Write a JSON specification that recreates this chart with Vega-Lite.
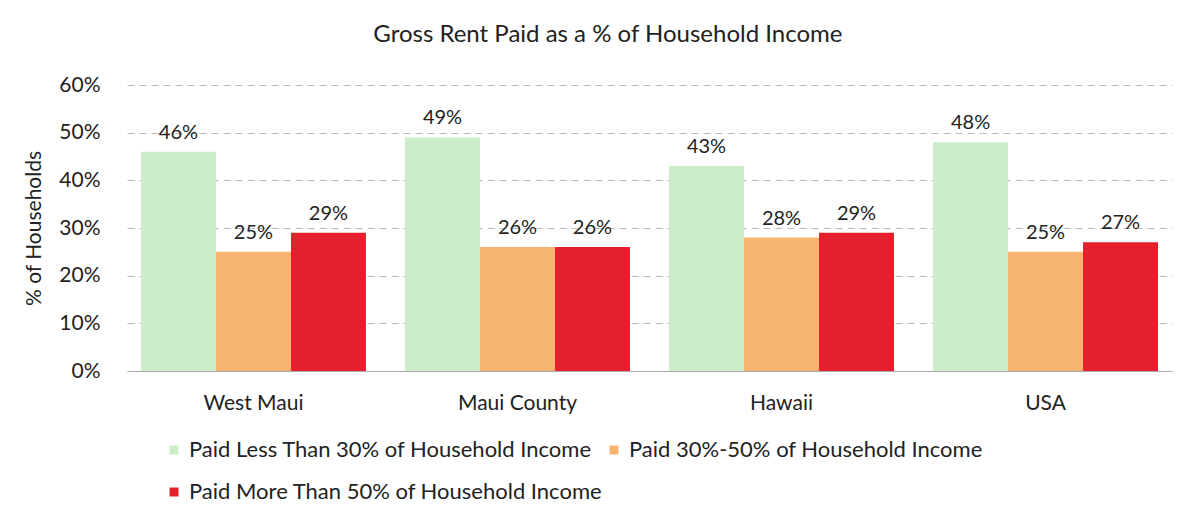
{
  "$schema": "https://vega.github.io/schema/vega-lite/v6.json",
  "autosize": "none",
  "width": 1045,
  "height": 286,
  "padding": {"left": 127, "top": 85, "right": 27, "bottom": 154},
  "background": "white",
  "title": {"text": "Gross Rent Paid as a % of Household Income", "font": "Lato", "fontSize": 24, "fontWeight": "normal", "color": "#222", "offset": 27, "anchor": "middle", "frame": "bounds", "dx": 10},
  "data": {"values": [
    {"region": "West Maui", "category": "Paid Less Than 30% of Household Income", "value": 0.46},
    {"region": "West Maui", "category": "Paid 30%-50% of Household Income", "value": 0.25},
    {"region": "West Maui", "category": "Paid More Than 50% of Household Income", "value": 0.29},
    {"region": "Maui County", "category": "Paid Less Than 30% of Household Income", "value": 0.49},
    {"region": "Maui County", "category": "Paid 30%-50% of Household Income", "value": 0.26},
    {"region": "Maui County", "category": "Paid More Than 50% of Household Income", "value": 0.26},
    {"region": "Hawaii", "category": "Paid Less Than 30% of Household Income", "value": 0.43},
    {"region": "Hawaii", "category": "Paid 30%-50% of Household Income", "value": 0.28},
    {"region": "Hawaii", "category": "Paid More Than 50% of Household Income", "value": 0.29},
    {"region": "USA", "category": "Paid Less Than 30% of Household Income", "value": 0.48},
    {"region": "USA", "category": "Paid 30%-50% of Household Income", "value": 0.25},
    {"region": "USA", "category": "Paid More Than 50% of Household Income", "value": 0.27}
  ]},
  "encoding": {
    "x": {"field": "region", "type": "nominal", "sort": ["West Maui", "Maui County", "Hawaii", "USA"],
      "scale": {"paddingInner": 0.148, "paddingOuter": 0.053},
      "axis": {"title": null, "labelAngle": 0, "labelFont": "Lato", "labelFontSize": 21, "labelColor": "#222", "labelPadding": 21, "ticks": false, "domainColor": "#aaa", "grid": false}},
    "xOffset": {"field": "category", "type": "nominal", "sort": ["Paid Less Than 30% of Household Income", "Paid 30%-50% of Household Income", "Paid More Than 50% of Household Income"]},
    "y": {"field": "value", "type": "quantitative", "scale": {"domain": [0, 0.6], "nice": false},
      "axis": {"title": "% of Households", "format": ".0%", "values": [0, 0.1, 0.2, 0.3, 0.4, 0.5, 0.6], "labelOverlap": false, "labelFont": "Lato", "labelFontSize": 21, "labelColor": "#222", "labelPadding": 27, "ticks": false, "tickSize": 0, "domain": false, "gridColor": "#aaa", "gridDash": [7, 5], "gridOpacity": 0.8, "titleFont": "Lato", "titleFontSize": 21, "titleFontWeight": "normal", "titleColor": "#222", "titlePadding": 14}}
  },
  "layer": [
    {"mark": {"type": "bar"},
      "encoding": {"color": {"field": "category", "type": "nominal",
        "sort": ["Paid Less Than 30% of Household Income", "Paid 30%-50% of Household Income", "Paid More Than 50% of Household Income"],
        "scale": {"domain": ["Paid Less Than 30% of Household Income", "Paid 30%-50% of Household Income", "Paid More Than 50% of Household Income"], "range": ["#cbedc8", "#f7b46e", "#e51f2b"]},
        "legend": {"title": null, "orient": "none", "legendX": 36, "legendY": 354, "columns": 2, "direction": "horizontal", "symbolType": "square", "symbolSize": 80, "symbolStrokeWidth": 0, "labelFont": "Lato", "labelFontSize": 22, "labelColor": "#222", "labelLimit": 700, "columnPadding": 0, "rowPadding": 20, "symbolOffset": 0, "labelOffset": 4}}}},
    {"mark": {"type": "text", "baseline": "bottom", "dy": -9, "font": "Lato", "fontSize": 20, "color": "#222"},
      "encoding": {"text": {"field": "value", "type": "quantitative", "format": ".0%"}}}
  ],
  "config": {"view": {"stroke": null}}
}
